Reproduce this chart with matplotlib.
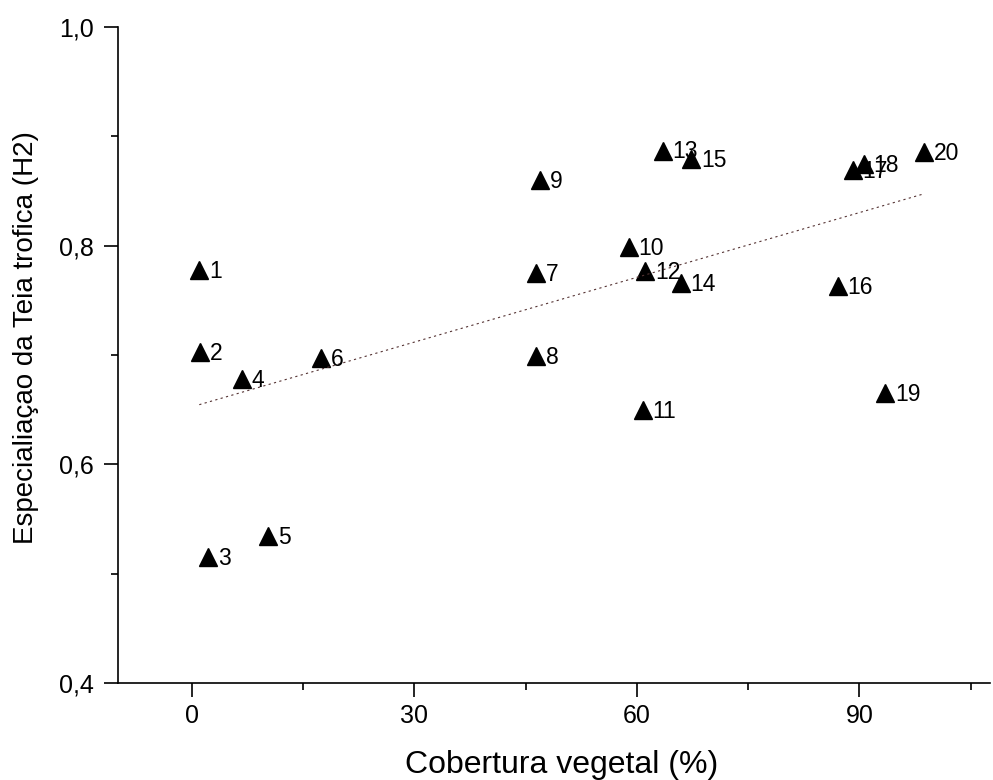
import numpy as np
import matplotlib.pyplot as plt
from matplotlib.ticker import MultipleLocator, FuncFormatter

plt.rcParams['font.family'] = ['Liberation Sans', 'DejaVu Sans']

# dados
pontos = [str(i) for i in range(1, 21)]
cobertura = [1.0, 1.1, 2.2, 6.7, 10.3, 17.4, 46.4, 46.4, 46.9, 58.9,
             60.8, 61.1, 63.5, 65.9, 67.3, 87.1, 89.1, 90.6, 93.5, 98.7]
h2 = [0.778, 0.703, 0.515, 0.678, 0.534, 0.697, 0.775, 0.699, 0.860, 0.799,
      0.650, 0.777, 0.887, 0.766, 0.879, 0.763, 0.869, 0.875, 0.665, 0.886]

fig = plt.figure(figsize=(9.93, 7.8), dpi=100)
ax = fig.add_axes([0.1185, 0.1244, 0.8785, 0.841])

ax.plot(cobertura, h2, linestyle='none', marker='^', markersize=13,
        color='black')
for lab, x, y in zip(pontos, cobertura, h2):
    ax.annotate(lab, (x, y), xytext=(7, -1), textcoords='offset points',
                fontsize=16.5, va='center', ha='left')

# reta de regressao
a, b = np.polyfit(cobertura, h2, 1)
xr = np.array([min(cobertura), max(cobertura)])
ax.plot(xr, a * xr + b, linestyle=(0, (2, 3)), linewidth=0.8, color='#553333')

ax.set_xlim(-10, 107.6)
ax.set_ylim(0.4, 1.0)
ax.xaxis.set_major_locator(MultipleLocator(30))
ax.xaxis.set_minor_locator(MultipleLocator(15))
ax.yaxis.set_major_locator(MultipleLocator(0.2))
ax.yaxis.set_minor_locator(MultipleLocator(0.1))
ax.yaxis.set_major_formatter(FuncFormatter(lambda v, p: f'{v:.1f}'.replace('.', ',')))

ax.spines['top'].set_visible(False)
ax.spines['right'].set_visible(False)
for s in ['left', 'bottom']:
    ax.spines[s].set_linewidth(1.2)
ax.tick_params(which='major', length=10, width=1.2, labelsize=18)
ax.tick_params(which='minor', length=5, width=1.2)
ax.tick_params(axis='x', which='major', pad=5)
ax.tick_params(axis='y', which='major', pad=7)

ax.set_xlabel('Cobertura vegetal (%)', fontsize=23)
ax.set_ylabel('Especialiaçao da Teia trofica (H2)', fontsize=20)
ax.xaxis.set_label_coords(0.509, -0.102)
ax.yaxis.set_label_coords(-0.09, 0.526)

fig.savefig('out.png', dpi=100)
